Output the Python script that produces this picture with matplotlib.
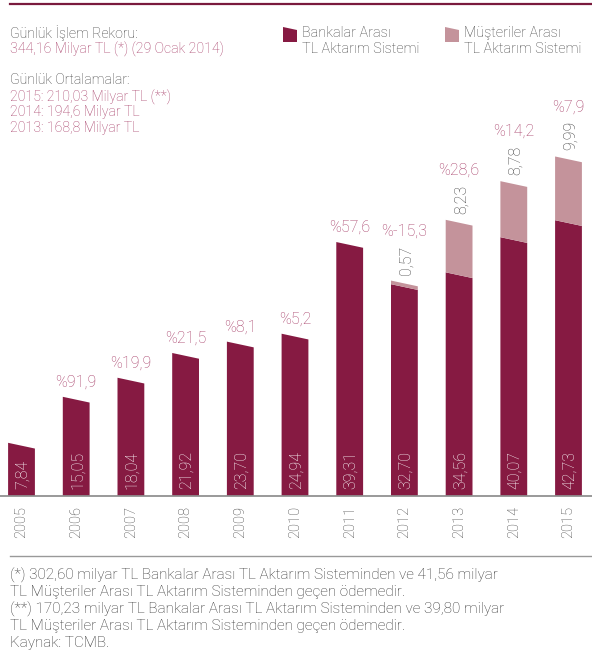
import matplotlib
matplotlib.use("Agg")
import matplotlib.pyplot as plt
from matplotlib.patches import Polygon
from matplotlib.lines import Line2D

years = ["2005", "2006", "2007", "2008", "2009", "2010", "2011", "2012", "2013", "2014", "2015"]
eft = [7.84, 15.05, 18.04, 21.92, 23.70, 24.94, 39.31, 32.70, 34.56, 40.07, 42.73]
eft_labels = ["7,84", "15,05", "18,04", "21,92", "23,70", "24,94", "39,31", "32,70", "34,56", "40,07", "42,73"]
mtas = [0, 0, 0, 0, 0, 0, 0, 0.57, 8.23, 8.78, 9.99]
mtas_labels = ["", "", "", "", "", "", "", "0,57", "8,23", "8,78", "9,99"]
growth = ["", "%91,9", "%19,9", "%21,5", "%8,1", "%5,2", "%57,6", "%-15,3", "%28,6", "%14,2", "%7,9"]

DARK = "#861a42"
LIGHT = "#c4939b"
PINK = "#a8406a"
GRAY = "#444444"
TXT = "#333333"

plt.rcParams['font.family'] = ['Roboto', 'DejaVu Sans']
WT = "light"

W, H = 592, 662
fig = plt.figure(figsize=(W / 100, H / 100), dpi=100)
base_px = 495.7
ax = fig.add_axes([0, (H - base_px) / H, 1, base_px / H])
px_per_unit = 6.38
ax.set_ylim(0, base_px / px_per_unit)
spacing = 54.7
ax.set_xlim(-21.5 / spacing, len(years) - 1 + 23.5 / spacing)
for s in ["top", "left", "right"]:
    ax.spines[s].set_visible(False)
ax.spines["bottom"].set_color("#888888")
ax.spines["bottom"].set_linewidth(1.2)
ax.set_yticks([])
ax.set_xticks([])

bw = 0.245
slant = 0.9
for i, yr in enumerate(years):
    v = eft[i]
    poly = Polygon([(i - bw, 0), (i + bw, 0), (i + bw, v - slant / 2), (i - bw, v + slant / 2)],
                   closed=True, facecolor=DARK, edgecolor="none")
    ax.add_patch(poly)
    top = v
    if mtas[i] > 0:
        t = v + mtas[i]
        poly2 = Polygon([(i - bw, v + slant / 2), (i + bw, v - slant / 2),
                         (i + bw, t - slant / 2), (i - bw, t + slant / 2)],
                        closed=True, facecolor=LIGHT, edgecolor="none")
        ax.add_patch(poly2)
        top = t
    ax.annotate(eft_labels[i], (i, 0), xytext=(1, 7), textcoords="offset pixels",
                rotation=90, ha="center", va="bottom", color="white", fontsize=11.5, fontweight=WT)
    ax.annotate(yr, (i, 0), xytext=(0, -10), textcoords="offset pixels",
                rotation=90, ha="center", va="top", color=GRAY, fontsize=10.5, fontweight=WT)
    anchor_top = top + slant / 2
    if mtas_labels[i]:
        lab = ax.annotate(mtas_labels[i], (i, anchor_top), xytext=(2, 6), textcoords="offset pixels",
                          rotation=90, ha="center", va="bottom", color=GRAY, fontsize=11.5, fontweight=WT)
        if growth[i]:
            ax.annotate(growth[i], (0.5, 1), xycoords=lab, xytext=(-2, 7), textcoords="offset pixels",
                        ha="center", va="bottom", color=PINK, fontsize=11.5, fontweight=WT)
    elif growth[i]:
        ax.annotate(growth[i], (i, anchor_top), xytext=(0, 7), textcoords="offset pixels",
                    ha="center", va="bottom", color=PINK, fontsize=11.5, fontweight=WT)

fig.add_artist(Line2D([10 / W, 1], [1 - 3.5 / H, 1 - 3.5 / H], color="#7a1a3d", lw=1.6))
fig.add_artist(Line2D([10 / W, 1], [1 - 556 / H, 1 - 556 / H], color="#999999", lw=1.0))

def fy(py):
    return 1 - py / H

hdr = [("Günlük İşlem Rekoru:", GRAY, 33), ("344,16 Milyar TL (*) (29 Ocak 2014)", PINK, 49),
       ("Günlük Ortalamalar:", GRAY, 80), ("2015: 210,03 Milyar TL (**)", PINK, 97),
       ("2014: 194,6 Milyar TL", PINK, 112), ("2013: 168,8 Milyar TL", PINK, 128)]
for txt, c, py in hdr:
    fig.text(10 / W, fy(py), txt, color=c, fontsize=10.2, va="center", ha="left", fontweight=WT)

def swatch(x0, color):
    pts = [(x0, 42), (x0 + 14, 42), (x0 + 14, 30), (x0, 27)]
    fig.add_artist(Polygon([(x / W, fy(y)) for x, y in pts], closed=True,
                           facecolor=color, edgecolor="none", transform=fig.transFigure))

swatch(283, DARK)
fig.text(302 / W, fy(33), "Bankalar Arası", color=GRAY, fontsize=10.4, va="center", fontweight=WT)
fig.text(302 / W, fy(49), "TL Aktarım Sistemi", color=GRAY, fontsize=10.4, va="center", fontweight=WT)
swatch(445, LIGHT)
fig.text(464 / W, fy(33), "Müşteriler Arası", color=GRAY, fontsize=10.4, va="center", fontweight=WT)
fig.text(464 / W, fy(49), "TL Aktarım Sistemi", color=GRAY, fontsize=10.4, va="center", fontweight=WT)

foot = ["(*) 302,60 milyar TL Bankalar Arası TL Aktarım Sisteminden ve 41,56 milyar",
        "TL Müşteriler Arası TL Aktarım Sisteminden geçen ödemedir.",
        "(**) 170,23 milyar TL Bankalar Arası TL Aktarım Sisteminden ve 39,80 milyar",
        "TL Müşteriler Arası TL Aktarım Sisteminden geçen ödemedir.",
        "Kaynak: TCMB."]
for k, line in enumerate(foot):
    fig.text(10 / W, fy(575 + k * 17), line, color=TXT, fontsize=11, va="center", ha="left", fontweight=WT)

fig.savefig("out.png", dpi=100)
